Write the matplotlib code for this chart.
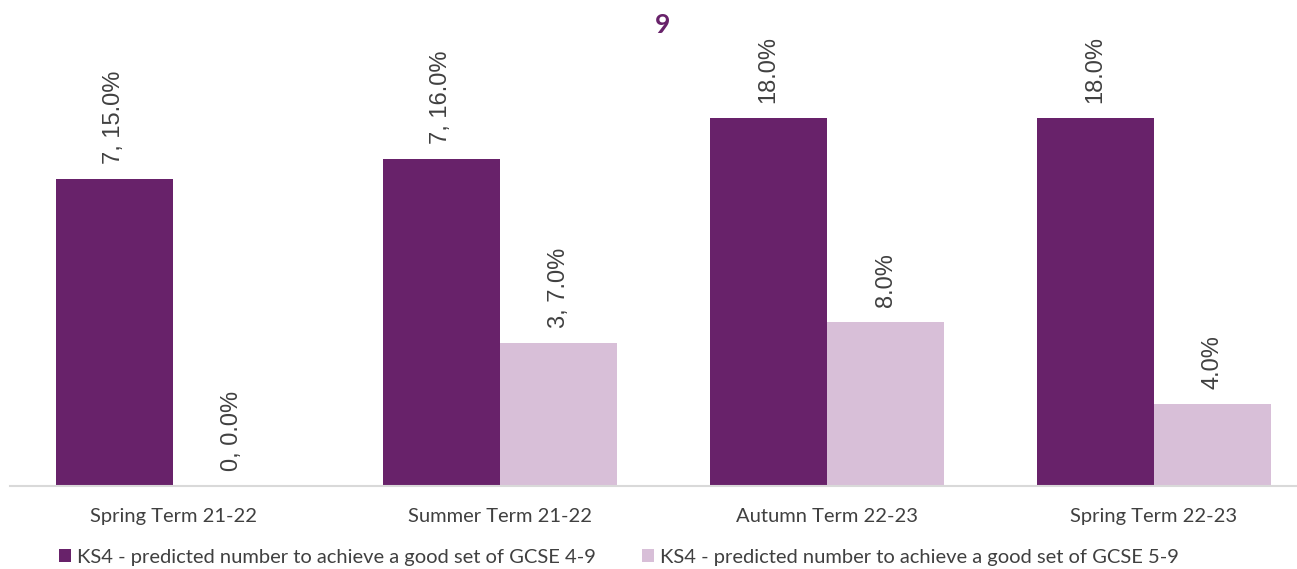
import matplotlib
matplotlib.use('Agg')
import matplotlib.pyplot as plt
import numpy as np

terms = ['Spring Term 21-22', 'Summer Term 21-22', 'Autumn Term 22-23', 'Spring Term 22-23']
pct_4_9 = [15.0, 16.0, 18.0, 18.0]
pct_5_9 = [0.0, 7.0, 8.0, 4.0]
labels_4_9 = ['7, 15.0%', '7, 16.0%', '18.0%', '18.0%']
labels_5_9 = ['0, 0.0%', '3, 7.0%', '8.0%', '4.0%']
series_names = ['KS4 - predicted number to achieve a good set of GCSE 4-9',
                'KS4 - predicted number to achieve a good set of GCSE 5-9']

dark = '#68226A'
light = '#D8BFD8'
grey = '#404040'

W, H = 1297, 569
fig = plt.figure(figsize=(W / 100, H / 100), dpi=100)
# axes: x from 9.5 to 1317.5 px, y from 486 (baseline) up to 0 px
ax = fig.add_axes([9.5 / W, (H - 486) / H, 1308 / W, 486 / H])

x = np.arange(len(terms))
bw = 0.358
b1 = ax.bar(x - bw / 2, pct_4_9, bw, color=dark, label=series_names[0])
b2 = ax.bar(x + bw / 2, pct_5_9, bw, color=light, label=series_names[1])

ax.set_xlim(-0.5, len(terms) - 0.5)
ax.set_ylim(0, 486 * 18 / 368)

for bars, labs in ((b1, labels_4_9), (b2, labels_5_9)):
    for rect, lab in zip(bars, labs):
        ax.annotate(lab, (rect.get_x() + rect.get_width() / 2, rect.get_height()),
                    xytext=(0, 15), textcoords='offset pixels', rotation=90,
                    ha='center', va='bottom', fontsize=17, color=grey,
                    family='Liberation Sans')

for s in ['top', 'right', 'left']:
    ax.spines[s].set_visible(False)
ax.spines['bottom'].set_color('#D9D9D9')
ax.spines['bottom'].set_linewidth(1.5)
ax.set_yticks([])
ax.set_xticks(x)
ax.set_xticklabels(terms, fontsize=14.5, color=grey, family='Lato')
ax.tick_params(axis='x', length=0, pad=16)

fig.text(663 / W, 1 - 25 / H, '9', ha='center', va='center', fontsize=19,
         fontweight='bold', color=dark, family='Lato')

fig.legend(loc='center', bbox_to_anchor=(619 / W, 1 - 557 / H), ncol=2, frameon=False,
           prop={'family': 'Lato', 'size': 14.5}, labelcolor=grey,
           handlelength=0.6, handleheight=0.6, handletextpad=0.3, columnspacing=2.3)

fig.savefig('out.png', dpi=100)
